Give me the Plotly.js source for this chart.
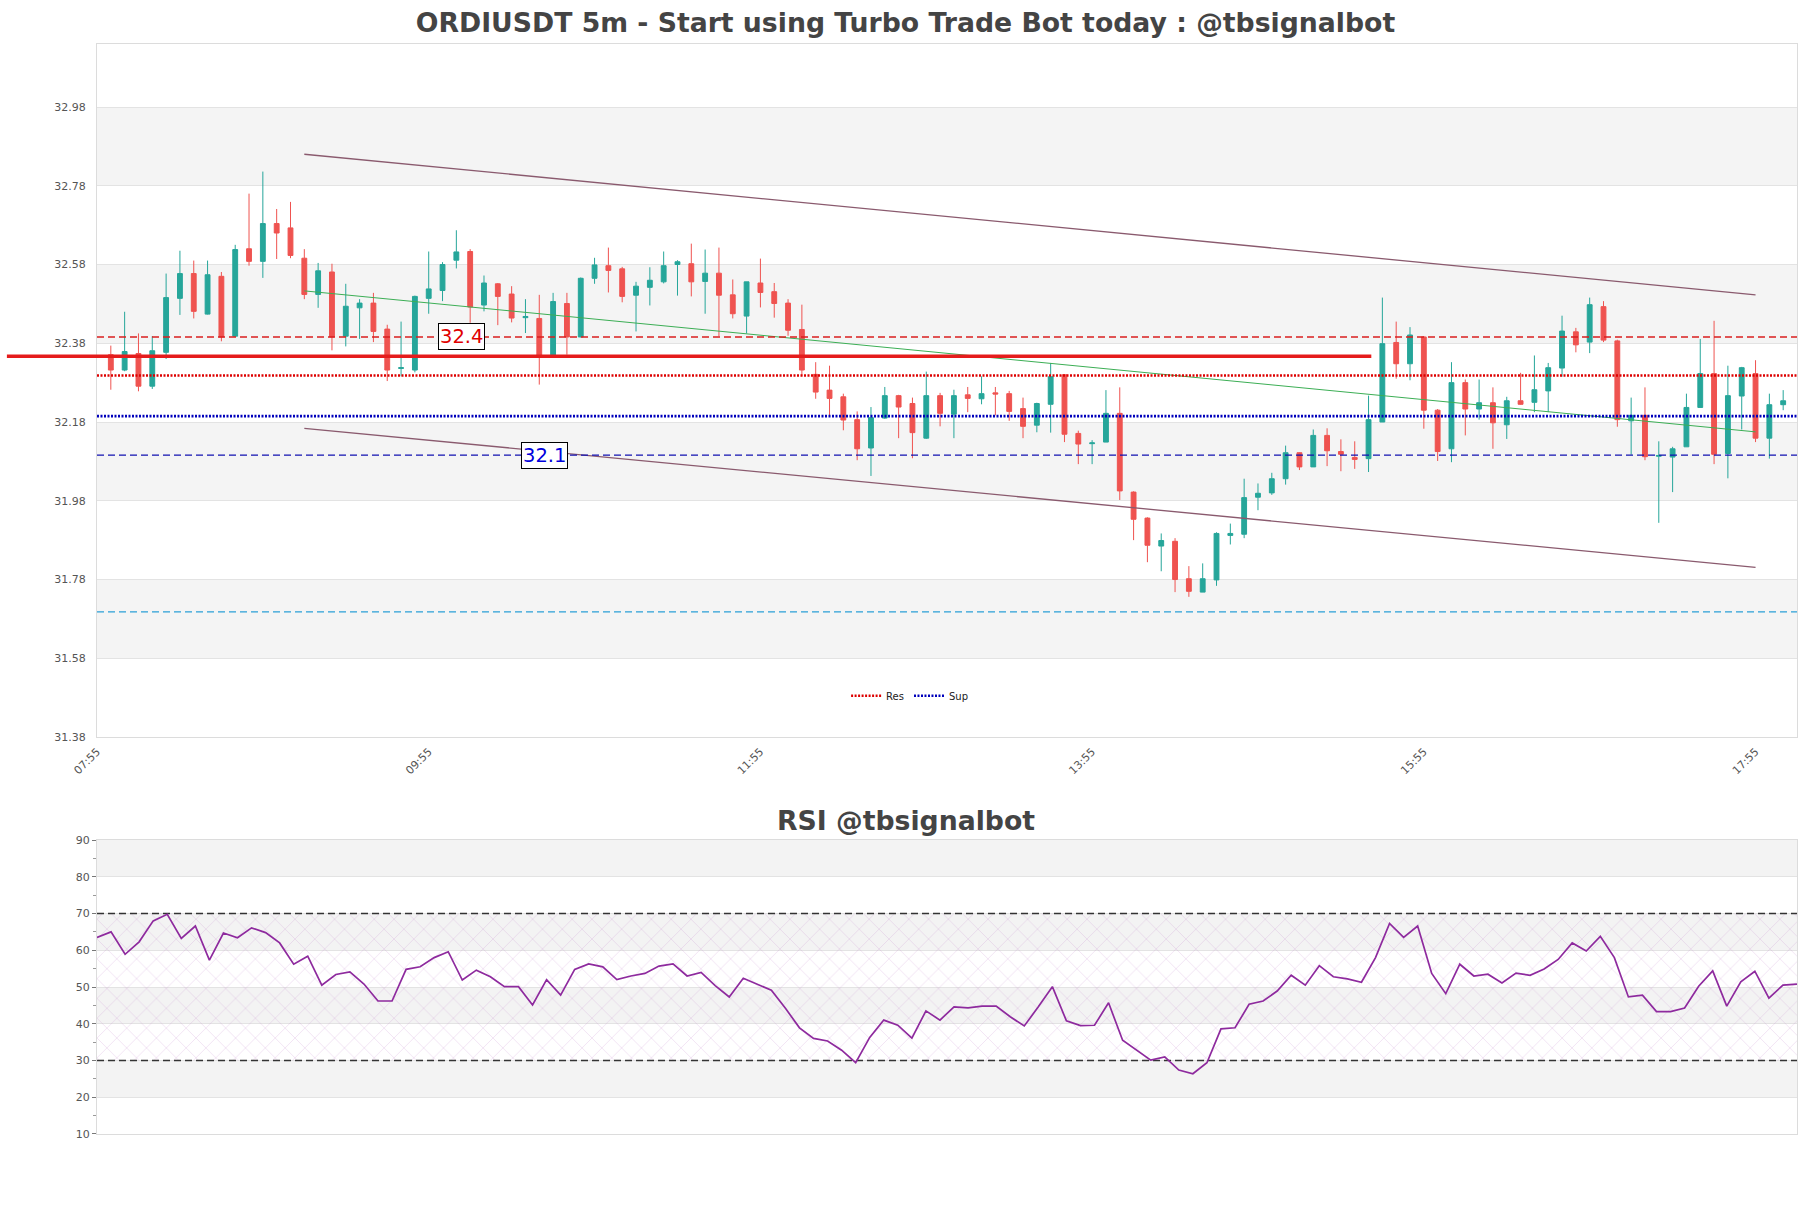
<!DOCTYPE html>
<html>
<head>
<meta charset="utf-8">
<script src="https://cdn.plot.ly/plotly-3.0.1.min.js"></script>
<style>
  body { margin: 0; background: #fff; }
  #chart { width: 1811px; height: 1208px; }
</style>
</head>
<body>
<div id="chart"></div>
<script>
var day = '2024-01-15 ';

var times = [
  '08:00','08:05','08:10','08:15','08:20','08:25','08:30','08:35','08:40','08:45','08:50','08:55',
  '09:00','09:05','09:10','09:15','09:20','09:25','09:30','09:35','09:40','09:45','09:50','09:55',
  '10:00','10:05','10:10','10:15','10:20','10:25','10:30','10:35','10:40','10:45','10:50','10:55',
  '11:00','11:05','11:10','11:15','11:20','11:25','11:30','11:35','11:40','11:45','11:50','11:55',
  '12:00','12:05','12:10','12:15','12:20','12:25','12:30','12:35','12:40','12:45','12:50','12:55',
  '13:00','13:05','13:10','13:15','13:20','13:25','13:30','13:35','13:40','13:45','13:50','13:55',
  '14:00','14:05','14:10','14:15','14:20','14:25','14:30','14:35','14:40','14:45','14:50','14:55',
  '15:00','15:05','15:10','15:15','15:20','15:25','15:30','15:35','15:40','15:45','15:50','15:55',
  '16:00','16:05','16:10','16:15','16:20','16:25','16:30','16:35','16:40','16:45','16:50','16:55',
  '17:00','17:05','17:10','17:15','17:20','17:25','17:30','17:35','17:40','17:45','17:50','17:55',
  '18:00','18:05'
];

var open = [
  32.351,32.312,32.354,32.271,32.357,32.494,32.557,32.454,32.550,32.398,32.620,32.588,
  32.684,32.673,32.596,32.504,32.561,32.398,32.470,32.482,32.416,32.316,32.312,32.494,
  32.514,32.591,32.613,32.477,32.531,32.505,32.445,32.443,32.349,32.481,32.396,32.545,
  32.577,32.569,32.502,32.522,32.536,32.580,32.582,32.537,32.558,32.503,32.449,32.533,
  32.511,32.482,32.415,32.301,32.261,32.244,32.186,32.114,32.190,32.247,32.227,32.139,
  32.247,32.200,32.249,32.239,32.254,32.252,32.214,32.172,32.225,32.300,32.151,32.125,
  32.129,32.202,32.002,31.936,31.865,31.877,31.782,31.748,31.779,31.892,31.895,31.989,
  32.000,32.036,32.102,32.066,32.146,32.105,32.090,32.087,32.180,32.382,32.328,32.396,
  32.210,32.112,32.280,32.213,32.229,32.173,32.234,32.230,32.259,32.317,32.409,32.383,
  32.473,32.386,32.183,32.197,32.093,32.091,32.117,32.217,32.303,32.100,32.246,32.303,
  32.139,32.224
];
var high = [
  32.374,32.460,32.405,32.398,32.557,32.615,32.590,32.590,32.561,32.630,32.760,32.816,
  32.721,32.739,32.619,32.584,32.582,32.531,32.492,32.508,32.427,32.435,32.501,32.613,
  32.586,32.667,32.619,32.552,32.533,32.525,32.492,32.503,32.508,32.508,32.547,32.597,
  32.623,32.574,32.536,32.573,32.613,32.591,32.633,32.618,32.623,32.542,32.536,32.595,
  32.533,32.492,32.478,32.332,32.323,32.252,32.207,32.218,32.269,32.249,32.242,32.308,
  32.254,32.262,32.269,32.296,32.269,32.259,32.242,32.229,32.330,32.300,32.158,32.134,
  32.261,32.268,32.004,31.938,31.897,31.885,31.814,31.821,31.900,31.922,32.036,32.024,
  32.051,32.120,32.103,32.161,32.164,32.136,32.131,32.247,32.496,32.435,32.421,32.398,
  32.213,32.332,32.288,32.288,32.268,32.244,32.305,32.349,32.330,32.450,32.419,32.496,
  32.487,32.389,32.242,32.268,32.131,32.117,32.252,32.391,32.437,32.323,32.320,32.337,
  32.252,32.261
];
var low = [
  32.262,32.309,32.258,32.264,32.340,32.452,32.443,32.453,32.385,32.396,32.577,32.546,
  32.594,32.596,32.492,32.470,32.362,32.372,32.391,32.383,32.284,32.296,32.306,32.455,
  32.487,32.570,32.432,32.461,32.426,32.433,32.406,32.275,32.345,32.351,32.395,32.531,
  32.509,32.484,32.410,32.476,32.532,32.501,32.499,32.455,32.398,32.443,32.405,32.471,
  32.445,32.399,32.296,32.239,32.193,32.159,32.083,32.043,32.188,32.139,32.088,32.137,
  32.169,32.139,32.205,32.225,32.197,32.183,32.139,32.154,32.153,32.129,32.073,32.073,
  32.129,31.982,31.880,31.824,31.801,31.748,31.736,31.748,31.764,31.869,31.885,31.956,
  31.995,32.021,32.058,32.066,32.068,32.055,32.061,32.053,32.180,32.290,32.286,32.163,
  32.081,32.078,32.146,32.186,32.112,32.137,32.224,32.205,32.205,32.295,32.357,32.355,
  32.383,32.168,32.097,32.083,31.924,32.002,32.117,32.217,32.073,32.037,32.161,32.129,
  32.087,32.210
];
var close = [
  32.312,32.359,32.271,32.361,32.496,32.557,32.461,32.554,32.396,32.618,32.588,32.684,
  32.660,32.603,32.504,32.564,32.396,32.474,32.482,32.410,32.312,32.318,32.499,32.518,
  32.580,32.612,32.472,32.533,32.499,32.444,32.448,32.349,32.486,32.396,32.545,32.579,
  32.565,32.499,32.525,32.540,32.577,32.587,32.536,32.558,32.502,32.455,32.536,32.509,
  32.481,32.413,32.312,32.256,32.240,32.185,32.112,32.191,32.247,32.218,32.153,32.247,
  32.202,32.247,32.240,32.252,32.251,32.207,32.169,32.227,32.295,32.149,32.124,32.127,
  32.202,32.005,31.933,31.867,31.879,31.780,31.750,31.782,31.897,31.897,31.988,31.999,
  32.036,32.102,32.066,32.146,32.107,32.098,32.085,32.186,32.379,32.328,32.401,32.210,
  32.105,32.280,32.213,32.229,32.178,32.234,32.225,32.262,32.318,32.411,32.376,32.478,
  32.388,32.186,32.197,32.092,32.095,32.112,32.217,32.303,32.098,32.247,32.318,32.139,
  32.224,32.234
];

var rsi = [
  63.5,65.0,58.9,62.3,68.0,69.8,63.2,66.6,57.3,64.7,63.4,66.1,
  64.8,62.0,56.2,58.4,50.5,53.4,54.1,50.8,46.2,46.2,54.8,55.5,
  58.0,59.6,51.9,54.6,52.8,50.1,50.1,45.1,52.0,47.8,54.8,56.3,
  55.5,52.0,53.0,53.7,55.7,56.3,53.0,54.0,50.4,47.3,52.4,50.8,
  49.1,44.2,38.9,36.0,35.3,32.8,29.4,36.3,41.0,39.6,36.1,43.5,
  41.0,44.6,44.3,44.8,44.8,41.9,39.4,44.6,50.1,40.8,39.5,39.6,
  45.7,35.5,32.8,30.1,31.0,27.4,26.4,29.4,38.6,38.9,45.3,46.2,
  48.9,53.2,50.5,55.8,52.8,52.2,51.3,58.0,67.3,63.5,66.6,53.7,
  48.2,56.2,53.0,53.5,51.1,53.8,53.2,54.9,57.5,62.0,59.8,63.8,
  58.0,47.3,47.8,43.3,43.3,44.3,50.2,54.4,44.8,51.4,54.3,47.0,
  50.5,50.8
];

// support / resistance levels
var resDash = 32.396, resDot = 32.298, resThick = 32.347;
var supDot = 32.195, supDash = 32.096, lowDash = 31.698;
var resLabel = '32.4', supLabel = '32.1';
var resLabelAt = '10:07', supLabelAt = '10:37';
var thickEnd = '15:36';

// trend lines
var trendX = ['09:10', '17:55'];
var channelTop = [32.860, 32.503];
var channelBot = [32.164, 31.811];
var trendMid = [32.513, 32.155];

var priceTicks = [31.38, 31.58, 31.78, 31.98, 32.18, 32.38, 32.58, 32.78, 32.98];
var rsiTicks = [10, 20, 30, 40, 50, 60, 70, 80, 90];
var rsiBounds = [30, 70];

var xs = times.map(function (t) { return day + t; });
var xStart = day + '07:55', xEnd = day + '18:10';
var tx = trendX.map(function (t) { return day + t; });
var first = xs[0], last = xs[xs.length - 1];

function frac(t) {
  var a = new Date(xStart.replace(' ', 'T')).getTime();
  var b = new Date(xEnd.replace(' ', 'T')).getTime();
  var c = new Date((day + t).replace(' ', 'T')).getTime();
  return (c - a) / (b - a);
}

function hline(y, color, width, dash, name, show) {
  return {
    x: [xStart, xEnd], y: [y, y], type: 'scatter', mode: 'lines',
    line: { color: color, width: width, dash: dash },
    name: name || '', showlegend: !!show, hoverinfo: 'skip', xaxis: 'x', yaxis: 'y'
  };
}

var data = [
  {
    type: 'candlestick', x: xs, open: open, high: high, low: low, close: close,
    increasing: { line: { color: '#26a69a', width: 1 }, fillcolor: '#26a69a' },
    decreasing: { line: { color: '#ef5350', width: 1 }, fillcolor: '#ef5350' },
    whiskerwidth: 0, showlegend: false, xaxis: 'x', yaxis: 'y'
  },
  { x: tx, y: channelTop, type: 'scatter', mode: 'lines', line: { color: '#8a5a6e', width: 1.3 }, showlegend: false, hoverinfo: 'skip' },
  { x: tx, y: channelBot, type: 'scatter', mode: 'lines', line: { color: '#8a5a6e', width: 1.3 }, showlegend: false, hoverinfo: 'skip' },
  { x: tx, y: trendMid, type: 'scatter', mode: 'lines', line: { color: '#3cae55', width: 1 }, showlegend: false, hoverinfo: 'skip' },
  hline(resDash, '#d91e1e', 1.4, '7px,4px'),
  hline(resDot, '#dd0000', 2.6, '2px,1.5px', 'Res', true),
  hline(supDot, '#0000bb', 2.6, '2px,1.5px', 'Sup', true),
  hline(supDash, '#1010b0', 1.4, '7px,4px'),
  hline(lowDash, '#2a9fd6', 1.2, '7px,4px'),
  {
    x: [first, last, last, first], y: [rsiBounds[0], rsiBounds[0], rsiBounds[1], rsiBounds[1]],
    type: 'scatter', mode: 'lines', fill: 'toself', line: { width: 0 },
    fillcolor: 'rgba(0,0,0,0)',
    fillpattern: { shape: 'x', fgcolor: 'rgba(190,120,200,0.55)', bgcolor: 'rgba(0,0,0,0)', size: 14, solidity: 0.05 },
    showlegend: false, hoverinfo: 'skip', xaxis: 'x2', yaxis: 'y2'
  },
  {
    x: [first, last], y: [rsiBounds[1], rsiBounds[1]], type: 'scatter', mode: 'lines',
    line: { color: '#333', width: 1.3, dash: '7px,4px' }, showlegend: false, hoverinfo: 'skip', xaxis: 'x2', yaxis: 'y2'
  },
  {
    x: [first, last], y: [rsiBounds[0], rsiBounds[0]], type: 'scatter', mode: 'lines',
    line: { color: '#333', width: 1.3, dash: '7px,4px' }, showlegend: false, hoverinfo: 'skip', xaxis: 'x2', yaxis: 'y2'
  },
  {
    x: xs, y: rsi, type: 'scatter', mode: 'lines', line: { color: '#8e2a9e', width: 1.7 },
    showlegend: false, xaxis: 'x2', yaxis: 'y2'
  }
];

var shapes = [];
for (var i = 1; i < priceTicks.length - 1; i += 2) {
  shapes.push({ type: 'rect', xref: 'x domain', yref: 'y', x0: 0, x1: 1, y0: priceTicks[i], y1: priceTicks[i + 1],
    fillcolor: '#f4f4f4', line: { width: 0 }, layer: 'below' });
}
for (var j = 1; j < rsiTicks.length - 1; j += 2) {
  shapes.push({ type: 'rect', xref: 'x2 domain', yref: 'y2', x0: 0, x1: 1, y0: rsiTicks[j], y1: rsiTicks[j + 1],
    fillcolor: '#f3f3f3', line: { width: 0 }, layer: 'below' });
}
shapes.push({ type: 'line', xref: 'paper', yref: 'y', x0: -0.053, x1: frac(thickEnd), y0: resThick, y1: resThick,
  line: { color: '#e51c1c', width: 3.6 } });

var axisFont = { family: 'DejaVu Sans', size: 11, color: '#555' };

var layout = {
  width: 1811, height: 1208,
  paper_bgcolor: '#fff', plot_bgcolor: '#fff',
  margin: { l: 97, r: 14, t: 44, b: 74 },
  font: { family: 'DejaVu Sans', color: '#444' },
  title: { text: '<b>ORDIUSDT 5m - Start using Turbo Trade Bot today : @tbsignalbot</b>',
    font: { family: 'DejaVu Sans', size: 26.7, color: '#444' }, x: 0.5, xanchor: 'center', y: 0.981, yanchor: 'middle' },
  showlegend: true,
  legend: { orientation: 'h', x: 0.478, xanchor: 'center', y: 0.402, yanchor: 'middle',
    font: { family: 'DejaVu Sans', size: 10, color: '#222' }, bgcolor: 'rgba(0,0,0,0)', itemwidth: 30 },
  boxgap: 0.5,
  xaxis: {
    type: 'date', domain: [0, 1], anchor: 'y', range: [xStart, xEnd],
    rangeslider: { visible: false },
    tick0: xStart, dtick: 7200000, tickformat: '%H:%M', tickangle: -45,
    tickfont: axisFont, ticks: 'outside', ticklen: 3, tickcolor: 'rgba(0,0,0,0)',
    showgrid: false, showline: true, linecolor: '#dcdcdc', mirror: true, zeroline: false
  },
  yaxis: {
    domain: [0.3642, 1], anchor: 'x', range: [31.38, 33.14],
    tickvals: priceTicks, ticktext: priceTicks.map(function (v) { return v.toFixed(2); }),
    tickfont: axisFont, ticks: 'outside', ticklen: 8, tickcolor: 'rgba(0,0,0,0)',
    showgrid: true, gridcolor: '#e3e3e3', gridwidth: 1,
    showline: true, linecolor: '#dcdcdc', mirror: true, zeroline: false
  },
  xaxis2: {
    type: 'date', domain: [0, 1], anchor: 'y2', range: [first, last],
    showticklabels: false, showgrid: false, showline: true, linecolor: '#dcdcdc', mirror: true, zeroline: false
  },
  yaxis2: {
    domain: [0, 0.2697], anchor: 'x2', range: [10, 90],
    tickvals: rsiTicks, tickfont: axisFont, ticks: 'outside', ticklen: 4, tickcolor: '#777',
    minor: { dtick: 5, tick0: 5, ticks: 'outside', ticklen: 3, tickcolor: '#999', showgrid: false },
    showgrid: true, gridcolor: '#e3e3e3', gridwidth: 1,
    showline: true, linecolor: '#dcdcdc', mirror: true, zeroline: false
  },
  shapes: shapes,
  annotations: [
    { x: day + resLabelAt, y: resDash, xref: 'x', yref: 'y', text: resLabel, showarrow: false,
      font: { family: 'DejaVu Sans', size: 19.5, color: '#e00000' }, bgcolor: '#fff',
      bordercolor: '#000', borderwidth: 1, borderpad: 1 },
    { x: day + supLabelAt, y: supDash, xref: 'x', yref: 'y', text: supLabel, showarrow: false,
      font: { family: 'DejaVu Sans', size: 19.5, color: '#0000dd' }, bgcolor: '#fff',
      bordercolor: '#000', borderwidth: 1, borderpad: 1 },
    { x: 0.4756, y: 0.288, xref: 'paper', yref: 'paper', text: '<b>RSI @tbsignalbot</b>', showarrow: false,
      xanchor: 'center', yanchor: 'middle', font: { family: 'DejaVu Sans', size: 26.7, color: '#444' } }
  ]
};

Plotly.newPlot('chart', data, layout, { displayModeBar: false, staticPlot: true });
</script>
</body>
</html>
